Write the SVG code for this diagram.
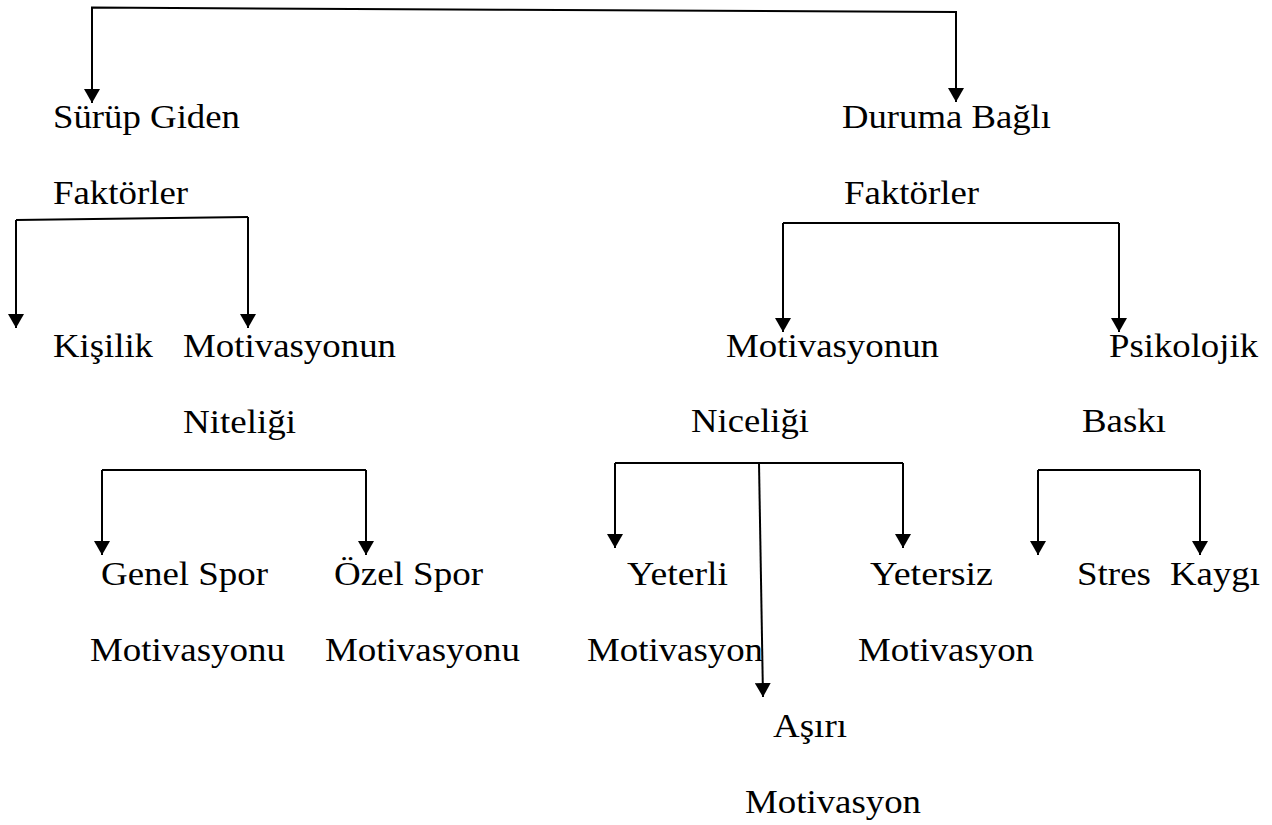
<svg xmlns="http://www.w3.org/2000/svg" width="1272" height="825" viewBox="0 0 1272 825">
<style>
text{font-family:"Liberation Serif","Times New Roman",serif;font-size:33px;fill:#000}
.c{fill:none;stroke:#000;stroke-width:2;stroke-linejoin:miter}
.a{marker-end:url(#arr)}
</style>
<defs>
<marker id="arr" viewBox="0 0 14 16" refX="14" refY="8" markerWidth="14" markerHeight="16" markerUnits="userSpaceOnUse" orient="auto">
<path d="M0,0 L14,8 L0,16 Z" fill="#000"/>
</marker>
</defs>
<rect width="1272" height="825" fill="#fff"/>
<g id="connectors">
<path class="c a" d="M500,9.8 L92,7.5 L92,103"/>
<path class="c a" d="M500,9.8 L956,12 L956,102"/>
<path class="c" d="M16,220 L248,217"/>
<path class="c a" d="M16,220 L16,328"/>
<path class="c a" d="M248,217 L248,328"/>
<path class="c" d="M783,223 L1119,223"/>
<path class="c a" d="M783,223 L783,332"/>
<path class="c a" d="M1119,223 L1119,332"/>
<path class="c" d="M102,470 L366,470"/>
<path class="c a" d="M102,470 L102,555"/>
<path class="c a" d="M366,470 L366,555"/>
<path class="c" d="M615,463 L903,463"/>
<path class="c a" d="M615,463 L615,548"/>
<path class="c a" d="M903,463 L903,548"/>
<path class="c a" d="M759,463 L763,697"/>
<path class="c" d="M1038,470 L1200,470"/>
<path class="c a" d="M1038,470 L1038,555"/>
<path class="c a" d="M1200,470 L1200,555"/>
</g>
<g id="surup-giden"><text x="53" y="128" textLength="187" lengthAdjust="spacingAndGlyphs">Sürüp Giden</text><text x="53" y="204" textLength="135" lengthAdjust="spacingAndGlyphs">Faktörler</text></g>
<g id="duruma-bagli"><text x="842" y="128" textLength="209" lengthAdjust="spacingAndGlyphs">Duruma Bağlı</text><text x="844" y="204" textLength="135" lengthAdjust="spacingAndGlyphs">Faktörler</text></g>
<g id="kisilik"><text x="53" y="357" textLength="100" lengthAdjust="spacingAndGlyphs">Kişilik</text></g>
<g id="mot-niteligi"><text x="183" y="357" textLength="213" lengthAdjust="spacingAndGlyphs">Motivasyonun</text><text x="183" y="433" textLength="113" lengthAdjust="spacingAndGlyphs">Niteliği</text></g>
<g id="mot-niceligi"><text x="726" y="357" textLength="213" lengthAdjust="spacingAndGlyphs">Motivasyonun</text><text x="691" y="432" textLength="118" lengthAdjust="spacingAndGlyphs">Niceliği</text></g>
<g id="psikolojik-baski"><text x="1109" y="357" textLength="149" lengthAdjust="spacingAndGlyphs">Psikolojik</text><text x="1082" y="432" textLength="84" lengthAdjust="spacingAndGlyphs">Baskı</text></g>
<g id="genel-spor"><text x="101" y="585" textLength="167" lengthAdjust="spacingAndGlyphs">Genel Spor</text><text x="90" y="661" textLength="195" lengthAdjust="spacingAndGlyphs">Motivasyonu</text></g>
<g id="ozel-spor"><text x="334" y="585" textLength="149" lengthAdjust="spacingAndGlyphs">Özel Spor</text><text x="325" y="661" textLength="195" lengthAdjust="spacingAndGlyphs">Motivasyonu</text></g>
<g id="yeterli"><text x="627" y="585" textLength="101" lengthAdjust="spacingAndGlyphs">Yeterli</text><text x="587" y="661" textLength="176" lengthAdjust="spacingAndGlyphs">Motivasyon</text></g>
<g id="yetersiz"><text x="870" y="585" textLength="123" lengthAdjust="spacingAndGlyphs">Yetersiz</text><text x="858" y="661" textLength="176" lengthAdjust="spacingAndGlyphs">Motivasyon</text></g>
<g id="asiri"><text x="773" y="737" textLength="74" lengthAdjust="spacingAndGlyphs">Aşırı</text><text x="745" y="813" textLength="176" lengthAdjust="spacingAndGlyphs">Motivasyon</text></g>
<g id="stres"><text x="1077" y="585" textLength="74" lengthAdjust="spacingAndGlyphs">Stres</text></g>
<g id="kaygi"><text x="1170" y="585" textLength="90" lengthAdjust="spacingAndGlyphs">Kaygı</text></g>
</svg>
